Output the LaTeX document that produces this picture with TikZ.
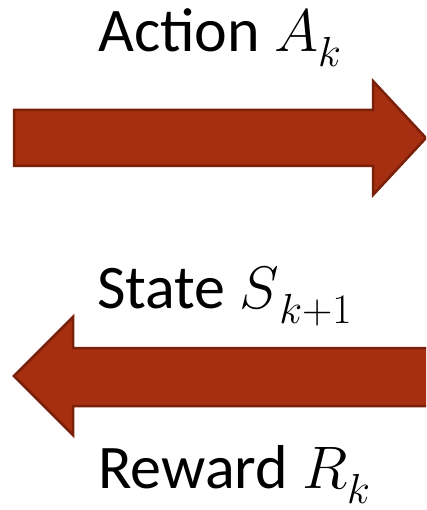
\RequirePackage{fix-cm}
\documentclass[tikz,border=0pt]{standalone}
\usepackage{fontspec}
\setmainfont{Carlito}
\newcommand\mv[1]{{\fontsize{60}{60}\selectfont$#1$}}
\newcommand\sbs[1]{\raisebox{-15pt}{\fontsize{42}{42}\selectfont$#1$}}
\definecolor{arrowfill}{HTML}{A52F10}
\definecolor{arrowedge}{HTML}{7A2008}
\tikzset{
  bigarrow/.style={fill=arrowfill, draw=arrowedge, line width=2.5pt, line join=miter},
  lbl/.style={font=\fontsize{62}{64}\selectfont, inner sep=0pt, anchor=base west}
}
\begin{document}
\begin{tikzpicture}[x=1pt,y=-1pt]
\useasboundingbox (0,0) rectangle (426,510);
\clip (0,0) rectangle (426,510);
\draw[bigarrow] (14,110) -- (373,110) -- (373,81) -- (426,138) -- (373,195) -- (373,166) -- (14,166) -- cycle;
\draw[bigarrow] (14,376) -- (73,317) -- (73,348) -- (432,348) -- (432,406) -- (73,406) -- (73,435) -- cycle;
\node[lbl] (action) at (98,52) {Action \mv{A}\sbs{k}};
\node[lbl] (state) at (97,308) {State \mv{S}\sbs{k{+}1}};
\node[lbl] (reward) at (98,488) {Reward \mv{R}\sbs{k}};
\end{tikzpicture}
\end{document}
